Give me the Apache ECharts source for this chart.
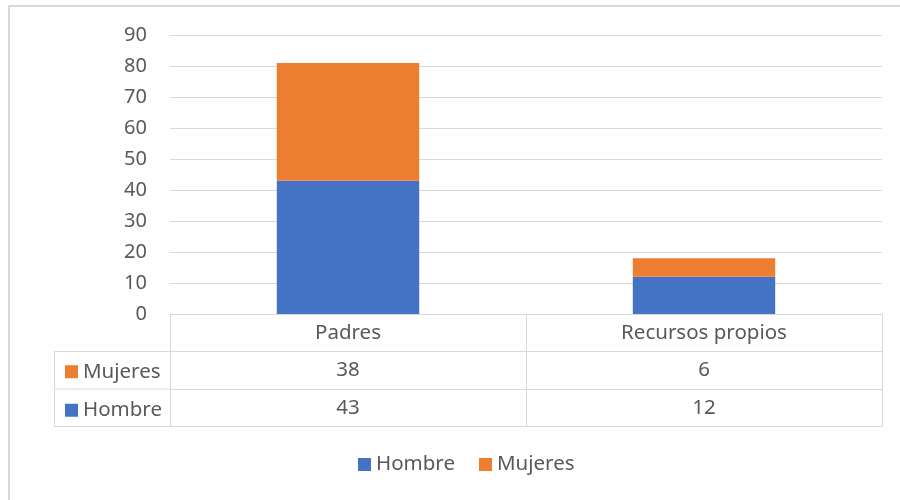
<!DOCTYPE html>
<html>
<head>
    <meta charset="utf-8">
    <title>Padres / Recursos propios</title>
    <script src="https://cdn.jsdelivr.net/npm/echarts@6/dist/echarts.min.js"></script>
    <style>
        html, body { margin: 0; padding: 0; background: #fff; }
        #chart { width: 900px; height: 500px; }
    </style>
</head>
<body>
    <div id="chart"></div>
    <script type="text/javascript">
        // datos
        var categories = ['Padres', 'Recursos propios'];
        var seriesNames = ['Hombre', 'Mujeres'];
        var hombre = [43, 12];
        var mujeres = [38, 6];
        var yMin = 0, yMax = 90, yStep = 10;

        var colors = ['#4472C4', '#ED7D31'];
        var gray = '#d9d9d9';
        var textColor = '#595959';
        var font = 'Noto Sans';
        var fs = 20.5;

        // geometria de la tabla
        var gridLeft = 170, gridRight = 18, gridTop = 35, axisY = 314;
        var row = 37.5;
        var tableLeft = 54;

        var chart = echarts.init(document.getElementById('chart'));

        // cada fila de la tabla es un eje de categorias desplazado hacia abajo
        function tableAxis(labels, offset, withTicks, withLabels) {
            return {
                type: 'category',
                position: 'bottom',
                offset: offset,
                data: labels,
                axisLine: { show: true, lineStyle: { color: gray, width: 1 } },
                axisTick: { show: withTicks, length: row, lineStyle: { color: gray, width: 1 } },
                axisLabel: {
                    show: withLabels, interval: 0, margin: 9,
                    fontSize: fs, lineHeight: 20, color: textColor, fontFamily: font
                },
                splitLine: { show: false }
            };
        }

        var option = {
            animation: false,
            color: colors,
            grid: { left: gridLeft, right: gridRight, top: gridTop, bottom: 500 - axisY },
            legend: [
                {
                    data: seriesNames,
                    bottom: 20,
                    left: 353,
                    itemWidth: 13, itemHeight: 13, itemGap: 24,
                    icon: 'rect',
                    textStyle: { fontSize: fs, lineHeight: 20, color: textColor, fontFamily: font }
                },
                {
                    // claves de la tabla (Mujeres arriba, Hombre abajo)
                    data: seriesNames.slice().reverse(),
                    orient: 'vertical',
                    left: 60,
                    top: axisY + row + row / 2 - 14,
                    itemWidth: 13, itemHeight: 13, itemGap: row - 20,
                    icon: 'rect',
                    selectedMode: false,
                    textStyle: { fontSize: fs, lineHeight: 20, color: textColor, fontFamily: font }
                }
            ],
            xAxis: [
                tableAxis(categories, 0, true, true),
                tableAxis(mujeres.map(String), row, true, true),
                tableAxis(hombre.map(String), row * 2, true, true),
                tableAxis(categories, row * 3, false, false)
            ],
            yAxis: {
                type: 'value',
                min: yMin, max: yMax, interval: yStep,
                axisLine: { show: false },
                axisTick: { show: false },
                axisLabel: { margin: 23, fontSize: 20, color: textColor, fontFamily: font },
                splitLine: { lineStyle: { color: gray, width: 1 } }
            },
            series: [
                { name: seriesNames[0], type: 'bar', stack: 'total', barWidth: '40%', xAxisIndex: 0, data: hombre },
                { name: seriesNames[1], type: 'bar', stack: 'total', barWidth: '40%', xAxisIndex: 0, data: mujeres }
            ],
            graphic: [
                // marco exterior
                { type: 'rect', silent: true, shape: { x: 9, y: 6, width: 900, height: 500 },
                  style: { fill: 'none', stroke: gray, lineWidth: 2 } },
                // columna izquierda de la tabla
                { type: 'line', silent: true, shape: { x1: tableLeft, y1: axisY + row, x2: gridLeft, y2: axisY + row },
                  style: { stroke: gray, lineWidth: 1 } },
                { type: 'line', silent: true, shape: { x1: tableLeft, y1: axisY + row * 2, x2: gridLeft, y2: axisY + row * 2 },
                  style: { stroke: gray, lineWidth: 1 } },
                { type: 'line', silent: true, shape: { x1: tableLeft, y1: axisY + row * 3, x2: gridLeft, y2: axisY + row * 3 },
                  style: { stroke: gray, lineWidth: 1 } },
                { type: 'line', silent: true, shape: { x1: tableLeft + 0.5, y1: axisY + row, x2: tableLeft + 0.5, y2: axisY + row * 3 },
                  style: { stroke: gray, lineWidth: 1 } },
                { type: 'line', silent: true, shape: { x1: gridLeft + 0.5, y1: axisY, x2: gridLeft + 0.5, y2: axisY + row * 3 },
                  style: { stroke: gray, lineWidth: 1 } }
            ]
        };

        chart.setOption(option);
    </script>
</body>
</html>
